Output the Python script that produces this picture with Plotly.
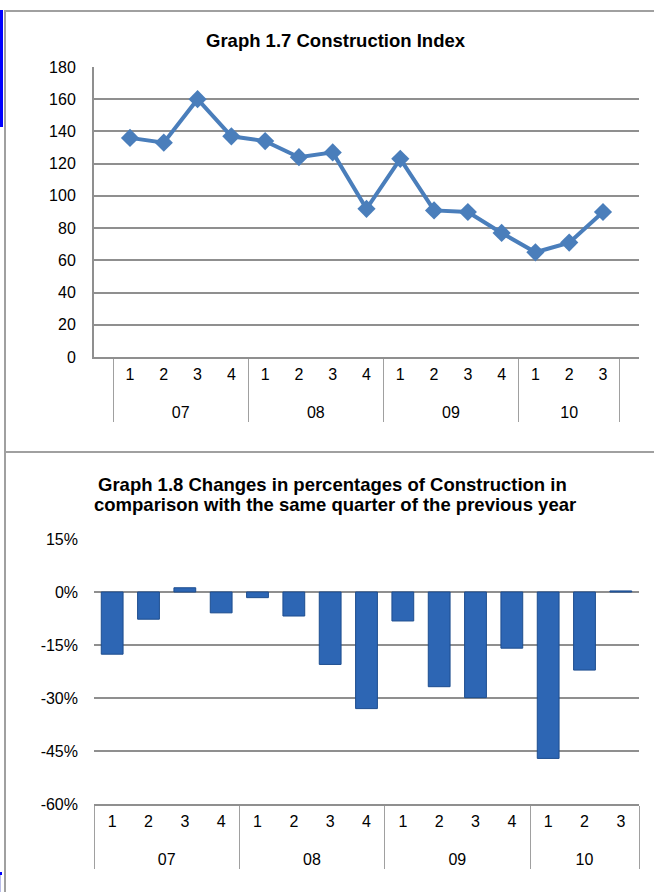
import plotly.graph_objects as go

# ---- data ----
year_labels = ["07", "07", "07", "07", "08", "08", "08", "08",
               "09", "09", "09", "09", "10", "10", "10"]
quarter_labels = ["1", "2", "3", "4", "1", "2", "3", "4",
                  "1", "2", "3", "4", "1", "2", "3"]
construction_index = [136, 133, 160, 137, 134, 124, 127, 92,
                      123, 91, 90, 77, 65, 71, 90]
yoy_change_pct = [-17.6, -7.7, 1.2, -5.9, -1.6, -6.8, -20.5, -33.0,
                  -8.2, -26.8, -29.9, -15.9, -47.1, -22.1, 0.3]
pct_tick_vals = [15, 0, -15, -30, -45, -60]
pct_tick_text = ["15%", "0%", "-15%", "-30%", "-45%", "-60%"]

title_top = "Graph 1.7 Construction Index"
title_bottom_1 = "Graph 1.8 Changes in percentages of Construction in"
title_bottom_2 = "comparison with the same quarter of the previous year"

W, H = 654, 892
FONT = "Liberation Sans, Arial, sans-serif"


def px_x(x):
    return x / W


def px_y(y):
    return (H - y) / H


# year row pushed one line lower (Excel-like two-level category axis)
year_display = ["<br>" + y for y in year_labels]
x_cats = [year_display, quarter_labels]

fig = go.Figure()

fig.add_trace(go.Scatter(
    x=x_cats, y=construction_index,
    mode="lines+markers",
    line=dict(color="#4A7EBB", width=4),
    marker=dict(symbol="diamond", size=14, color="#4A7EBB"),
    xaxis="x", yaxis="y", showlegend=False,
))

fig.add_trace(go.Bar(
    x=x_cats, y=yoy_change_pct,
    marker=dict(color="#2D66B4", line=dict(color="#1D4D8F", width=1)),
    width=0.6,
    xaxis="x2", yaxis="y2", showlegend=False,
))

grid = "#8f8f8f"
tickfont = dict(family=FONT, size=16, color="#000")
common_x = dict(
    type="multicategory", showgrid=False, showline=True, linecolor=grid,
    linewidth=2, ticks="", showdividers=True, dividercolor="#a0a0a0",
    dividerwidth=1, tickfont=tickfont, automargin=False,
    ticklabelstandoff=2,
    domain=[px_x(94), px_x(639)], fixedrange=True,
)
title_font = dict(family=FONT, size=18.5, color="#000")

fig.update_layout(
    width=W, height=H,
    margin=dict(l=0, r=0, t=0, b=0, autoexpand=False),
    paper_bgcolor="white", plot_bgcolor="white",
    xaxis=dict(common_x, anchor="y"),
    yaxis=dict(
        domain=[px_y(357), px_y(67)], range=[0, 180], dtick=20,
        showgrid=True, gridcolor=grid, gridwidth=2, zeroline=False,
        showline=True, linecolor=grid, linewidth=2, ticks="",
        ticklabelstandoff=13, automargin=False,
        tickfont=tickfont, anchor="x", fixedrange=True,
    ),
    xaxis2=dict(common_x, anchor="y2"),
    yaxis2=dict(
        domain=[px_y(804), px_y(539)], range=[-60, 15],
        tickmode="array", tickvals=pct_tick_vals, ticktext=pct_tick_text,
        showgrid=True, gridcolor=grid, gridwidth=2, zeroline=False,
        showline=False, ticks="", ticklabelstandoff=15, automargin=False,
        tickfont=tickfont, anchor="x2", fixedrange=True,
    ),
    bargap=0.4,
    annotations=[
        dict(text="<b>" + title_top + "</b>", xref="paper", yref="paper",
             x=px_x(336), y=px_y(40), showarrow=False, font=title_font,
             xanchor="center", yanchor="middle"),
        dict(text="<b>" + title_bottom_1 + "</b>", xref="paper", yref="paper",
             x=px_x(332), y=px_y(484), showarrow=False, font=title_font,
             xanchor="center", yanchor="middle"),
        dict(text="<b>" + title_bottom_2 + "</b>", xref="paper", yref="paper",
             x=px_x(335), y=px_y(504), showarrow=False, font=title_font,
             xanchor="center", yanchor="middle"),
    ],
    shapes=[
        # frame lines
        dict(type="line", xref="paper", yref="paper",
             x0=px_x(4), x1=1, y0=px_y(11), y1=px_y(11),
             line=dict(color="#a0a0a0", width=2)),
        dict(type="line", xref="paper", yref="paper",
             x0=px_x(5), x1=px_x(5), y0=px_y(11), y1=0,
             line=dict(color="#a0a0a0", width=2)),
        dict(type="line", xref="paper", yref="paper",
             x0=px_x(4), x1=1, y0=px_y(452), y1=px_y(452),
             line=dict(color="#a0a0a0", width=2)),
        # blue marks at left edge
        dict(type="rect", xref="paper", yref="paper",
             x0=0, x1=px_x(3), y0=px_y(127), y1=px_y(10),
             line=dict(width=0), fillcolor="#0000ff"),
        dict(type="rect", xref="paper", yref="paper",
             x0=0, x1=px_x(2), y0=px_y(875), y1=px_y(872),
             line=dict(width=0), fillcolor="#0000ff"),
        dict(type="rect", xref="paper", yref="paper",
             x0=0, x1=px_x(1), y0=0, y1=px_y(875),
             line=dict(width=0), fillcolor="#b8bce8"),
    ],
)

fig.write_html(
    "out.html",
    config={"displayModeBar": False, "staticPlot": True},
    post_script="document.body.style.margin='0';"
                "document.body.style.overflow='hidden';",
)
